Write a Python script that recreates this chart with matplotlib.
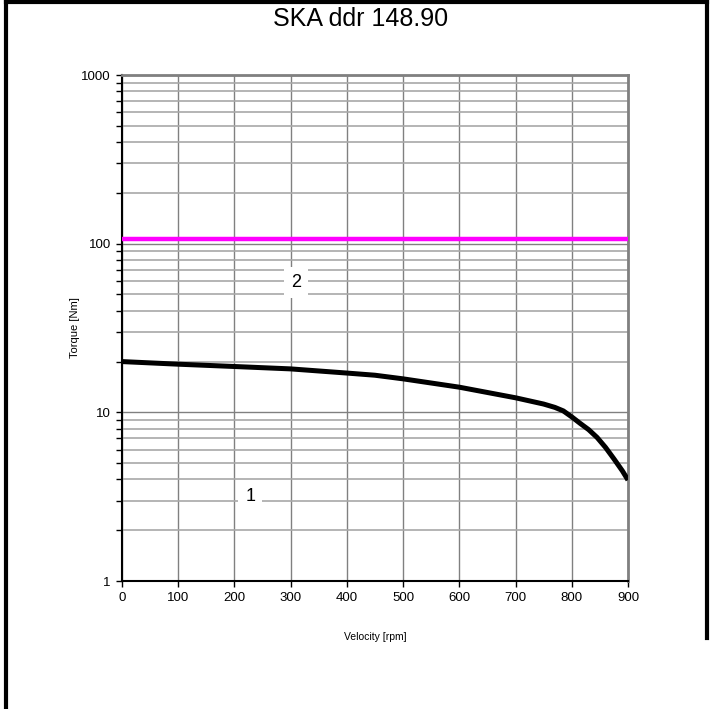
import numpy as np
import matplotlib.pyplot as plt
from matplotlib.ticker import LogLocator, FixedLocator, NullFormatter
from matplotlib.lines import Line2D

plt.rcParams['font.family'] = ['Liberation Sans', 'DejaVu Sans']

# kurve 1: dreiemoment mot hastighet
hastighet = [0, 100, 200, 300, 400, 450, 500, 600, 700, 750, 770, 785, 800, 815,
             830, 845, 860, 875, 890, 900]
moment = [20.0, 19.3, 18.7, 18.1, 17.1, 16.6, 15.8, 14.1, 12.2, 11.2, 10.7, 10.2,
          9.4, 8.6, 7.9, 7.1, 6.2, 5.3, 4.5, 3.97]

# kurve 2: konstant grense
grense_x = [0, 900]
grense_y = [106, 106]

tittel = "SKA ddr 148.90"
etiketter = ["1", "2"]
etikett_pos = [(228, 3.15), (309, 59)]

fig = plt.figure(figsize=(7.12, 7.09), dpi=100)
ax = fig.add_axes([0.1713, 0.1805, 0.7107, 0.7137])

ax.set_yscale('log')
ax.set_xlim(0, 900)
ax.set_ylim(1, 1000)

# rutenett
ax.yaxis.set_minor_locator(LogLocator(base=10, subs=np.arange(2, 10), numticks=20))
ax.yaxis.set_minor_formatter(NullFormatter())
ax.set_yticks([1, 10, 100, 1000])
ax.set_yticklabels(["1", "10", "100", "1000"])
ax.xaxis.set_major_locator(FixedLocator(np.arange(0, 1000, 100)))
ax.grid(True, which='major', axis='both', color='#808080', lw=1.0)
ax.grid(True, which='minor', axis='y', color='#a8a8a8', lw=1.2)
ax.set_axisbelow(True)

ax.tick_params(axis='both', which='major', direction='out', length=4, width=1,
               color='black', labelsize=9.5, pad=4)
ax.tick_params(axis='y', which='minor', direction='out', length=4, width=1, color='black')
ax.tick_params(axis='x', which='minor', length=0)

for s in ['left', 'bottom']:
    ax.spines[s].set_color('black')
    ax.spines[s].set_linewidth(1.5)
for s in ['top', 'right']:
    ax.spines[s].set_color('#808080')
    ax.spines[s].set_linewidth(2)

ax.plot(grense_x, grense_y, color='#ff00ff', lw=3.2, solid_capstyle='butt', zorder=3)
ax.plot(hastighet, moment, color='black', lw=3.6, solid_capstyle='butt',
        solid_joinstyle='round', zorder=4)

for tekst, (x, y) in zip(etiketter, etikett_pos):
    ax.text(x, y, tekst, fontsize=13, ha='center', va='center', zorder=5,
            bbox=dict(facecolor='white', edgecolor='none', pad=5))

ax.set_xlabel("Velocity [rpm]", fontsize=7.5)
ax.set_ylabel("Torque [Nm]", fontsize=8)
ax.xaxis.set_label_coords(0.5, -0.101)
ax.yaxis.set_label_coords(-0.083, 0.5)

fig.text(0.507, 0.973, tittel, ha='center', va='center', fontsize=18)

# ramme rundt figuren
ramme = dict(color='black', lw=3, transform=fig.transFigure)
fig.add_artist(Line2D([0.0085, 0.0085], [0.0, 0.997], **ramme))
fig.add_artist(Line2D([0.0085, 0.993], [0.997, 0.997], **ramme))
fig.add_artist(Line2D([0.993, 0.993], [0.997, 0.1], **ramme))

fig.savefig("out.png", dpi=100)
